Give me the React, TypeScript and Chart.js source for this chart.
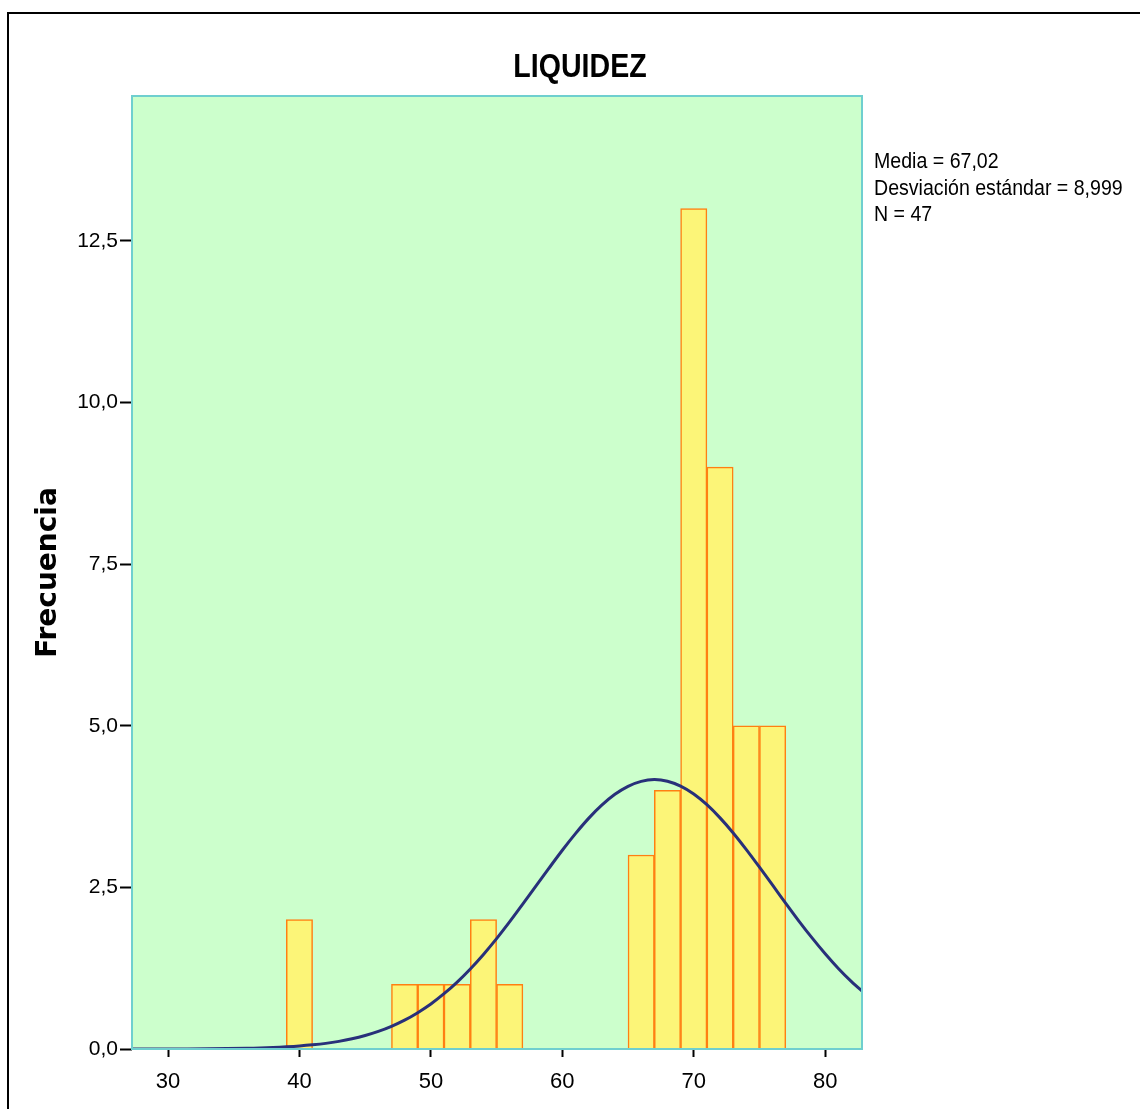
import React, { useEffect, useRef } from "react";
import { Chart, registerables } from "chart.js";

Chart.register(...registerables);

// Histogram bins (centre of each 2-unit bin) and their frequencies
const binCenters = [40, 48, 50, 52, 54, 56, 66, 68, 70, 72, 74, 76];
const frequencies = [2, 1, 1, 1, 2, 1, 3, 4, 13, 9, 5, 5];

// Normal curve points (Media = 67,02, Desv. = 8,999, N = 47)
const curveX = [27, 30, 33, 36, 37, 38, 39, 40, 41, 42, 43, 44, 45, 46, 47, 48, 49, 50, 51, 52, 53, 54, 55, 56, 57, 58, 59, 60, 61, 62, 63, 64, 65, 66, 67, 68, 69, 70, 71, 72, 73, 74, 75, 76, 77, 78, 79, 80, 81, 82, 83];
const curveY = [0.0002, 0.0009, 0.0033, 0.011, 0.016, 0.023, 0.033, 0.046, 0.064, 0.087, 0.118, 0.158, 0.209, 0.272, 0.351, 0.446, 0.562, 0.696, 0.855, 1.035, 1.238, 1.463, 1.707, 1.969, 2.243, 2.522, 2.801, 3.074, 3.331, 3.567, 3.771, 3.939, 4.063, 4.14, 4.167, 4.142, 4.067, 3.945, 3.779, 3.575, 3.342, 3.084, 2.812, 2.533, 2.253, 1.979, 1.718, 1.473, 1.246, 1.042, 0.861];

const xTickValues = [30, 40, 50, 60, 70, 80];
const yTickValues = [0, 2.5, 5, 7.5, 10, 12.5];

const titleText = "LIQUIDEZ";
const yAxisLabel = "Frecuencia";
const statsLines = ["Media = 67,02", "Desviación estándar = 8,999", "N = 47"];

const SANS = '"Liberation Sans", Arial, sans-serif';

const plotBgPlugin = {
  id: "plotBg",
  beforeDraw(chart: any) {
    const { ctx, chartArea } = chart;
    ctx.save();
    ctx.fillStyle = "#ccffcc";
    ctx.fillRect(chartArea.left, chartArea.top, chartArea.right - chartArea.left, chartArea.bottom - chartArea.top);
    ctx.restore();
  },
  afterDatasetsDraw(chart: any) {
    const { ctx, chartArea } = chart;
    ctx.save();
    ctx.strokeStyle = "#6fcfcf";
    ctx.lineWidth = 2;
    ctx.strokeRect(chartArea.left, chartArea.top, chartArea.right - chartArea.left, chartArea.bottom - chartArea.top);
    ctx.restore();
  },
};

export default function App() {
  const canvasRef = useRef<HTMLCanvasElement | null>(null);

  useEffect(() => {
    if (!canvasRef.current) return;
    const chart = new Chart(canvasRef.current, {
      type: "bar",
      data: {
        datasets: [
          {
            type: "line",
            data: curveX.map((x, i) => ({ x, y: curveY[i] })),
            borderColor: "#28307a",
            borderWidth: 3,
            pointRadius: 0,
            tension: 0.3,
            fill: false,
            order: 0,
          } as any,
          {
            type: "bar",
            data: binCenters.map((x, i) => ({ x, y: frequencies[i] })),
            backgroundColor: "#fcf578",
            borderColor: "#ff7f12",
            borderWidth: 1.5,
            categoryPercentage: 1,
            barPercentage: 1,
            order: 1,
          } as any,
        ],
      },
      options: {
        animation: false,
        responsive: false,
        maintainAspectRatio: false,
        layout: { padding: { left: 0, top: 96, right: 278, bottom: 0 } },
        plugins: {
          legend: { display: false },
          title: { display: false },
          tooltip: { enabled: false },
        },
        scales: {
          x: {
            type: "linear",
            min: 27.26,
            max: 82.8,
            offset: false,
            border: { display: false },
            grid: {
              offset: false,
              drawOnChartArea: false,
              drawTicks: true,
              tickLength: 8,
              tickColor: "#000",
              tickWidth: 2,
            },
            afterBuildTicks(scale: any) {
              scale.ticks = xTickValues.map((v) => ({ value: v }));
            },
            afterFit(scale: any) {
              scale.height = 60;
            },
            ticks: {
              color: "#000",
              padding: 12,
              maxRotation: 0,
              font: { family: SANS, size: 22 },
              callback: (v: any) => String(v),
            },
          },
          y: {
            type: "linear",
            min: 0,
            max: 14.74,
            border: { display: false },
            grid: {
              drawOnChartArea: false,
              drawTicks: true,
              tickLength: 12,
              tickColor: "#000",
              tickWidth: 2,
            },
            afterBuildTicks(scale: any) {
              scale.ticks = yTickValues.map((v) => ({ value: v }));
            },
            afterFit(scale: any) {
              scale.width = 132;
            },
            ticks: {
              color: "#000",
              padding: 2,
              font: { family: SANS, size: 21 },
              callback: (v: any) => Number(v).toFixed(1).replace(".", ","),
            },
            title: {
              display: true,
              text: yAxisLabel,
              color: "#000",
              padding: { top: 32, bottom: 0 },
              font: { family: '"DejaVu Sans", Verdana, sans-serif', size: 28, weight: "bold" },
            },
          },
        },
      },
      plugins: [plotBgPlugin],
    } as any);
    return () => chart.destroy();
  }, []);

  return (
    <div style={{ position: "fixed", left: 0, top: 0, width: 1140, height: 1109, overflow: "hidden", background: "#fff" }}>
      <div
        style={{
          position: "absolute",
          left: 7,
          top: 12,
          width: 1300,
          height: 1300,
          border: "2px solid #000",
          boxSizing: "border-box",
        }}
      />
      <canvas
        ref={canvasRef}
        width={1140}
        height={1109}
        style={{ position: "absolute", left: 0, top: 0, width: 1140, height: 1109 }}
      />
      <div
        style={{
          position: "absolute",
          left: 580,
          top: 45,
          transform: "translateX(-50%) scaleX(0.84)",
          fontFamily: SANS,
          fontWeight: "bold",
          fontSize: 34,
          lineHeight: "40px",
          color: "#000",
          whiteSpace: "nowrap",
        }}
      >
        {titleText}
      </div>
      <div
        style={{
          position: "absolute",
          left: 874,
          top: 148,
          transform: "scaleX(0.89)",
          transformOrigin: "left top",
          fontFamily: SANS,
          fontSize: 22,
          lineHeight: "26.5px",
          color: "#000",
          whiteSpace: "nowrap",
        }}
      >
        {statsLines.map((s, i) => (
          <div key={i}>{s}</div>
        ))}
      </div>
    </div>
  );
}
